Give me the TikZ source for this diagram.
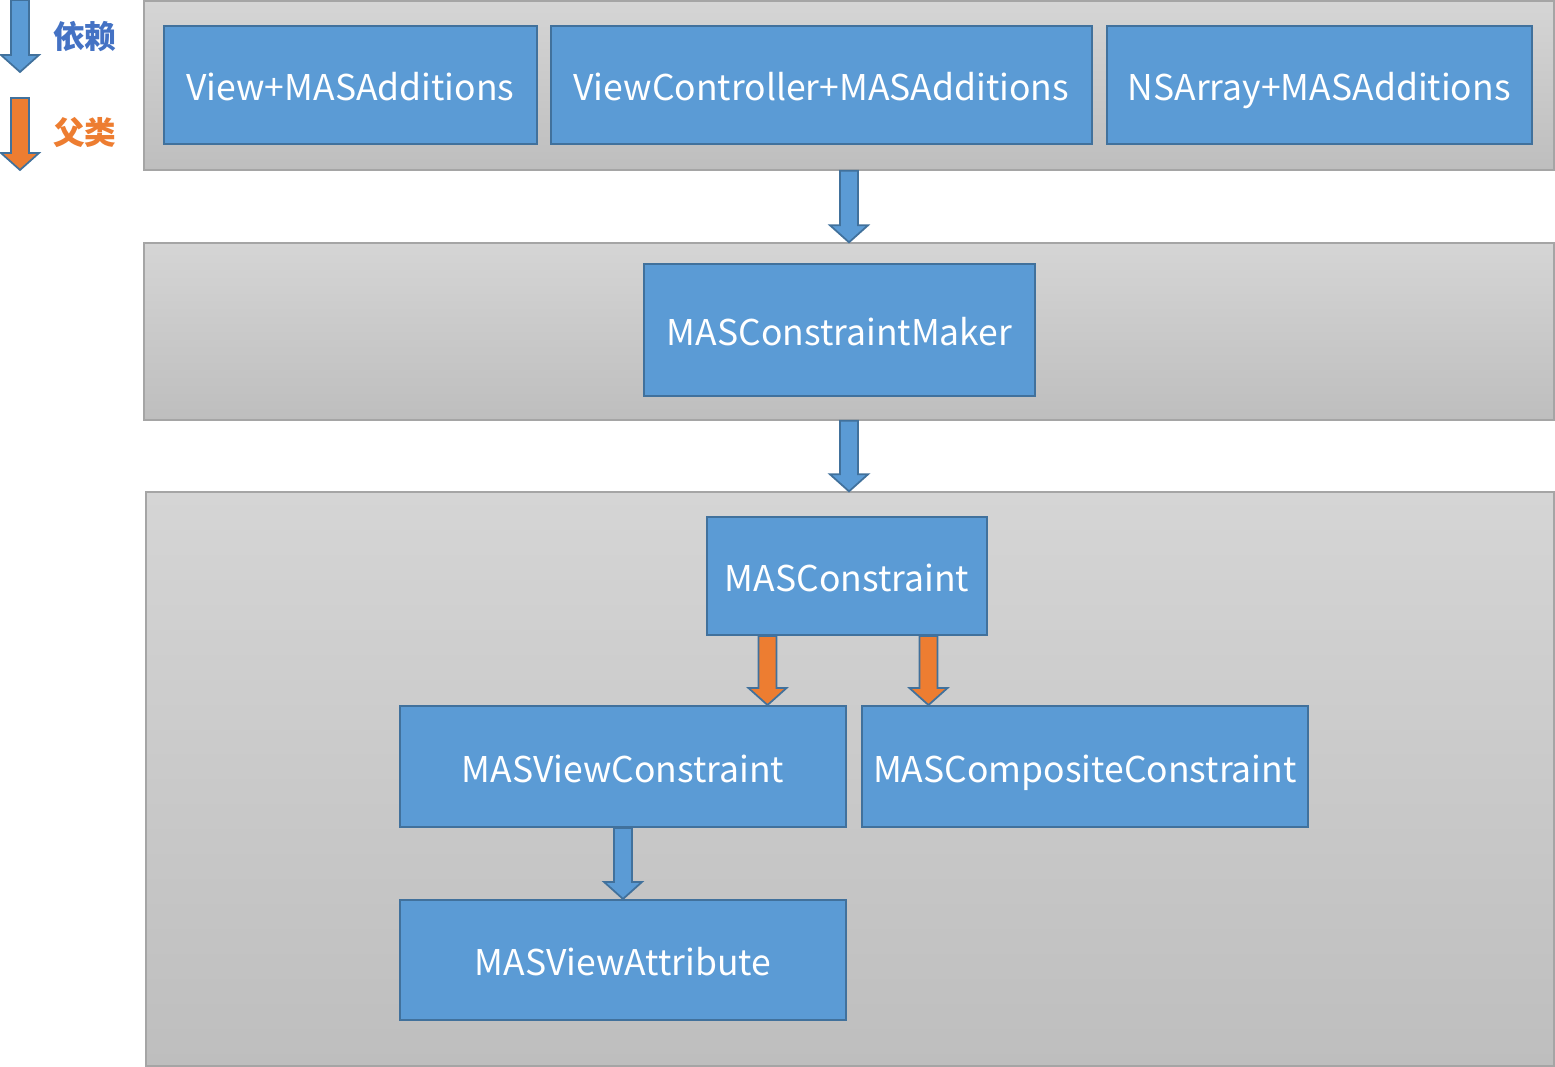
\documentclass[tikz,border=0pt]{standalone}
\usepackage{fontspec}
\setmainfont{Noto Sans CJK SC}
\usepackage{tikz}
\usetikzlibrary{positioning,calc}
\usepackage{xcolor}
\definecolor{boxblue}{RGB}{91,155,213}
\definecolor{edgeblue}{RGB}{65,113,156}
\definecolor{parentorange}{RGB}{237,125,49}
\definecolor{legendblue}{RGB}{68,114,196}
\definecolor{paneltop}{RGB}{213,213,213}
\definecolor{panelbottom}{RGB}{190,190,190}
\definecolor{paneledge}{RGB}{165,165,165}

% block arrow from a named coordinate down to the level of a node anchor
\newcommand{\blockarrow}[3]{%
  \coordinate (#1-tip) at (#1 |- #2);
  \draw[arrowline, fill=#3] ($(#1)+(-9,0)$) -- ($(#1-tip)+(-9,-17)$) -- ($(#1-tip)+(-19,-17)$)
    -- (#1-tip) -- ($(#1-tip)+(19,-17)$) -- ($(#1-tip)+(9,-17)$) -- ($(#1)+(9,0)$) -- cycle;}

\begin{document}
\begin{tikzpicture}[x=0.02cm, y=-0.02cm,
    panel/.style={rectangle, draw=paneledge, line width=0.8pt, top color=paneltop, bottom color=panelbottom, inner sep=0pt, minimum width=28.2cm},
    box/.style={rectangle, draw=edgeblue, line width=1.1pt, fill=boxblue, text=white, inner sep=0pt, text height=20pt, text depth=2pt, font=\fontsize{20.2}{24}\selectfont},
    arrowline/.style={draw=edgeblue, line width=1pt, line join=miter},
    legend/.style={font=\fontsize{18}{22}\selectfont\bfseries, anchor=west}]
    \useasboundingbox (0,0) rectangle (1555,1067);

    % panels
    \node[panel, minimum height=3.38cm] (top) at (849,85.5) {};
    \node[panel, minimum height=3.54cm] (middle) at (849,331.5) {};
    \node[panel, minimum height=11.48cm, minimum width=28.16cm] (bottom) at (850,779) {};

    % categories
    \node[box, minimum width=7.46cm, minimum height=2.36cm] (viewadd) at (350.5,85) {View+MASAdditions};
    \node[box, minimum width=10.82cm, minimum height=2.36cm, right=0.24cm of viewadd] (vcadd) {ViewController+MASAdditions};
    \node[box, minimum width=8.5cm, minimum height=2.36cm, right=0.26cm of vcadd] (arrayadd) {NSArray+MASAdditions};

    % maker
    \node[box, minimum width=7.82cm, minimum height=2.64cm] (maker) at (839.5,330) {MASConstraintMaker};

    % constraints
    \node[box, minimum width=5.6cm, minimum height=2.36cm] (constraint) at (847,576) {MASConstraint};
    \node[box, minimum width=8.92cm, minimum height=2.42cm] (viewcons) at (623,766.5) {MASViewConstraint};
    \node[box, minimum width=8.92cm, minimum height=2.42cm, right=0.28cm of viewcons] (compcons) {MASCompositeConstraint};
    \node[box, minimum width=8.92cm, minimum height=2.4cm, below=1.42cm of viewcons] (viewattr) {MASViewAttribute};

    % legend
    \coordinate (keydep) at (20,0);
    \coordinate (keydepend) at (20,72);
    \coordinate (keyparent) at (20,98);
    \coordinate (keyparentend) at (20,170);
    \node[legend, text=legendblue] (deplabel) at (47,37) {依赖};
    \node[legend, text=parentorange] (parentlabel) at (47,133) {父类};
    \blockarrow{keydep}{keydepend}{boxblue}
    \blockarrow{keyparent}{keyparentend}{parentorange}

    % connectors
    \coordinate (topout) at (top.south);
    \coordinate (middleout) at (middle.south);
    \coordinate (viewout) at (viewcons.south);
    \coordinate (leftout) at ($(constraint.south west)!0.218!(constraint.south east)$);
    \coordinate (rightout) at ($(constraint.south west)!0.789!(constraint.south east)$);
    \blockarrow{topout}{middle.north}{boxblue}
    \blockarrow{middleout}{bottom.north}{boxblue}
    \blockarrow{leftout}{viewcons.north}{parentorange}
    \blockarrow{rightout}{compcons.north}{parentorange}
    \blockarrow{viewout}{viewattr.north}{boxblue}
\end{tikzpicture}
\end{document}
